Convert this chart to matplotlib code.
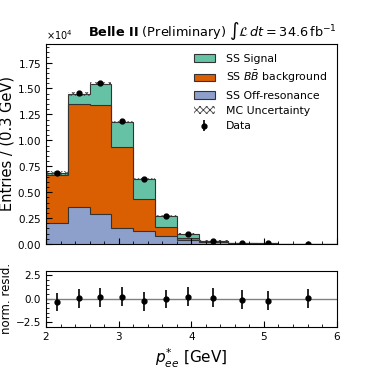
import numpy as np
import matplotlib.pyplot as plt
from matplotlib.patches import Patch
from matplotlib.ticker import ScalarFormatter, AutoMinorLocator, MultipleLocator

# bin edges in GeV
edges = [2.0, 2.3, 2.6, 2.9, 3.2, 3.5, 3.8, 4.1, 4.5, 4.9, 5.2, 6.0]
centers = [2.15, 2.45, 2.75, 3.05, 3.35, 3.65, 3.95, 4.3, 4.7, 5.05, 5.6]

# stacked MC components (entries)
off_res = [2030, 3610, 2900, 1550, 1260, 780, 420, 200, 90, 40, 20]
bb_bkg = [4650, 9890, 10500, 7850, 3100, 830, 160, 50, 20, 10, 5]
signal = [170, 970, 2070, 2380, 1940, 1130, 420, 70, 20, 10, 5]
mc_unc = [150, 150, 150, 130, 100, 60, 40, 20, 10, 5, 5]

# data
data = [6850, 14600, 15500, 11900, 6250, 2700, 1000, 330, 120, 55, 30]
data_err = [83, 121, 124, 109, 79, 52, 32, 18, 11, 7, 5]

# normalised residuals
resid = [-0.35, 0.05, 0.15, 0.2, -0.3, -0.05, 0.2, 0.1, -0.1, -0.2, 0.05]
resid_err = [1.0, 1.0, 1.0, 1.0, 1.0, 1.0, 1.0, 1.0, 1.0, 1.0, 1.0]

c_sig = '#66c2a5'
c_bb = '#d95f02'
c_off = '#8da0cb'
c_edge = '#333333'
c_hatch = '#444444'

edges = np.array(edges)
off_res = np.array(off_res, dtype=float)
bb_bkg = np.array(bb_bkg, dtype=float)
signal = np.array(signal, dtype=float)
mc_unc = np.array(mc_unc, dtype=float)

lvl_off = off_res
lvl_bb = off_res + bb_bkg
total = lvl_bb + signal

plt.rcParams['hatch.linewidth'] = 0.6

fig = plt.figure(figsize=(3.74, 3.74), dpi=100)
ax = fig.add_axes([0.123, 0.3476, 0.777, 0.535])
rax = fig.add_axes([0.123, 0.1265, 0.777, 0.15])

# stacked histogram, drawn from the top down
ax.stairs(total, edges, baseline=0, fill=True, facecolor=c_sig, edgecolor=c_edge, lw=0.8)
ax.stairs(lvl_bb, edges, baseline=0, fill=True, facecolor=c_bb, edgecolor=c_edge, lw=0.8)
ax.stairs(lvl_off, edges, baseline=0, fill=True, facecolor=c_off, edgecolor=c_edge, lw=0.8)

ax.stairs(total + mc_unc, edges, baseline=total - mc_unc, fill=True,
          facecolor='none', edgecolor=c_hatch, hatch='xxxxx', lw=0)

ax.errorbar(centers, data, yerr=data_err, fmt='o', color='black', ms=3.5, lw=1.2)

ax.set_xlim(2, 6)
ax.set_ylim(0, 19300)
fmt = ScalarFormatter(useMathText=True)
fmt.set_powerlimits((0, 0))
ax.yaxis.set_major_formatter(fmt)
ax.yaxis.set_major_locator(MultipleLocator(2500))
ax.yaxis.get_offset_text().set_fontsize(7)
ax.set_ylabel('Entries / (0.3 GeV)', fontsize=10.5, labelpad=2)
ax.tick_params(axis='x', labelbottom=False)

for a in (ax, rax):
    a.xaxis.set_major_locator(MultipleLocator(1))
    a.xaxis.set_minor_locator(AutoMinorLocator(5))
    a.yaxis.set_minor_locator(AutoMinorLocator(5))
    a.tick_params(which='both', direction='in', labelsize=7.5)
    a.tick_params(which='major', length=4)
    a.tick_params(which='minor', length=2)

ax.text(1.0, 1.01,
        r'$\mathbf{Belle\ II}$ (Preliminary) $\int\mathcal{L}\,dt = 34.6\,\mathrm{fb}^{-1}$',
        transform=ax.transAxes, ha='right', va='bottom', fontsize=9.3)

handles = [
    Patch(facecolor=c_sig, edgecolor=c_edge, lw=0.8),
    Patch(facecolor=c_bb, edgecolor=c_edge, lw=0.8),
    Patch(facecolor=c_off, edgecolor=c_edge, lw=0.8),
    Patch(facecolor='none', edgecolor=c_hatch, hatch='xxxxx', lw=0),
    ax.errorbar([], [], yerr=[], fmt='o', color='black', ms=3.5, lw=1.2),
]
labels = ['SS Signal', r'SS $B\bar{B}$ background', 'SS Off-resonance',
          'MC Uncertainty', 'Data']
ax.legend(handles, labels, loc='upper right', frameon=False, fontsize=7.8,
          handlelength=1.9, handletextpad=1.0, borderaxespad=0.5)

# residuals
rax.axhline(0, color='gray', lw=1)
rax.errorbar(centers, resid, yerr=resid_err, fmt='o', color='black', ms=3.5, lw=1.2)
rax.set_xlim(2, 6)
rax.set_ylim(-3, 3)
rax.yaxis.set_major_locator(MultipleLocator(2.5))
rax.set_ylabel('norm. resid.', fontsize=8.5, labelpad=2)
rax.set_xlabel(r'$p^{*}_{ee}$ [GeV]', fontsize=11)

fig.savefig('out.png', dpi=100)
